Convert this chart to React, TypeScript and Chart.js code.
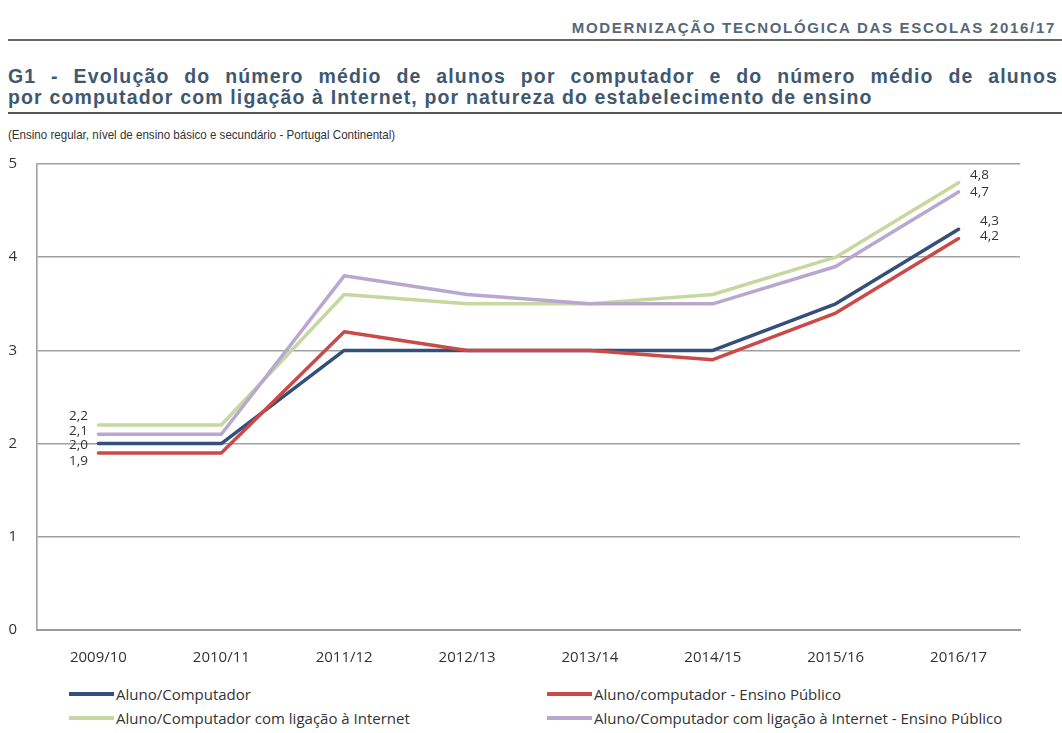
import React, { useEffect, useRef } from "react";
import { Chart, registerables } from "chart.js";

Chart.register(...registerables);

// ---------- data ----------
const categories = ["2009/10", "2010/11", "2011/12", "2012/13", "2013/14", "2014/15", "2015/16", "2016/17"];
const alunoComputador = [2.0, 2.0, 3.0, 3.0, 3.0, 3.0, 3.5, 4.3];
const alunoComputadorPublico = [1.9, 1.9, 3.2, 3.0, 3.0, 2.9, 3.4, 4.2];
const alunoInternet = [2.2, 2.2, 3.6, 3.5, 3.5, 3.6, 4.0, 4.8];
const alunoInternetPublico = [2.1, 2.1, 3.8, 3.6, 3.5, 3.5, 3.9, 4.7];
const seriesLabels = [
  "Aluno/Computador",
  "Aluno/computador - Ensino Público",
  "Aluno/Computador com ligação à Internet",
  "Aluno/Computador com ligação à Internet - Ensino Público",
];
const yTicks = [0, 1, 2, 3, 4, 5];

const headerText = "MODERNIZAÇÃO TECNOLÓGICA DAS ESCOLAS 2016/17";
const titleLine1 = "G1 - Evolução do número médio de alunos por computador e do número médio de alunos";
const titleLine2 = "por computador com ligação à Internet, por natureza do estabelecimento de ensino";
const subtitle = "(Ensino regular, nível de ensino básico e secundário - Portugal Continental)";

// ---------- styles ----------
const seriesColors = ["#34507a", "#c94a47", "#c4d89f", "#b8a8cf"];
const seriesOrder = [3, 1, 2, 0];
// pixel offsets of the value labels relative to first/last point
const startLabelOffsets = [[-20, 2], [-20, 8], [-20, -9], [-20, -3]];
const endLabelOffsets = [[31, -8], [31, -2], [21, -7], [21, 0]];

const FONT = "'Open Sans', 'DejaVu Sans', sans-serif";

const valueLabelPlugin = {
  id: "valueLabels",
  afterDatasetsDraw(chart: any) {
    const ctx = chart.ctx;
    ctx.save();
    ctx.font = `13.5px ${FONT}`;
    ctx.fillStyle = "#333";
    ctx.textAlign = "center";
    ctx.textBaseline = "middle";
    chart.data.datasets.forEach((ds: any, i: number) => {
      const meta = chart.getDatasetMeta(i);
      const n = ds.data.length;
      const first = meta.data[0];
      const last = meta.data[n - 1];
      const fmt = (v: number) => v.toFixed(1).replace(".", ",");
      ctx.fillText(fmt(ds.data[0]), first.x + startLabelOffsets[i][0], first.y + startLabelOffsets[i][1]);
      ctx.fillText(fmt(ds.data[n - 1]), last.x + endLabelOffsets[i][0], last.y + endLabelOffsets[i][1]);
    });
    ctx.restore();
  },
};

export default function App() {
  const canvasRef = useRef<HTMLCanvasElement | null>(null);

  useEffect(() => {
    if (!canvasRef.current) return;
    const values = [alunoComputador, alunoComputadorPublico, alunoInternet, alunoInternetPublico];
    const chart = new Chart(canvasRef.current, {
      type: "line",
      data: {
        labels: categories,
        datasets: values.map((d, i) => ({
          label: seriesLabels[i],
          data: d,
          borderColor: seriesColors[i],
          backgroundColor: seriesColors[i],
          borderWidth: 3.5,
          pointRadius: 0,
          tension: 0,
          borderJoinStyle: "round" as const,
          borderCapStyle: "round" as const,
          order: seriesOrder[i],
        })),
      },
      options: {
        animation: false,
        responsive: false,
        maintainAspectRatio: false,
        layout: { padding: { top: 0, right: 42, left: 0, bottom: 0 } },
        plugins: {
          legend: { display: false },
          tooltip: { enabled: false },
        },
        scales: {
          x: {
            type: "category",
            offset: true,
            grid: { display: false, drawTicks: false },
            border: { display: true, color: "#9a9a9a", width: 2 },
            ticks: { font: { family: FONT, size: 15 }, color: "#333", padding: 19, maxRotation: 0 },
            afterFit: (scale: any) => {
              scale.height = 39;
            },
          },
          y: {
            min: 0,
            max: 5,
            afterBuildTicks: (scale: any) => {
              scale.ticks = yTicks.map((v) => ({ value: v }));
            },
            grid: { color: "#a0a0a0", lineWidth: 1.6, drawTicks: false },
            border: { display: true, color: "#a0a0a0", width: 1.6 },
            ticks: { font: { family: FONT, size: 15 }, color: "#333", padding: 20 },
            afterFit: (scale: any) => {
              scale.width = 37;
            },
          },
        },
      },
      plugins: [valueLabelPlugin],
    });
    return () => chart.destroy();
  }, []);

  const legendRows = [
    [0, 1],
    [2, 3],
  ];

  return (
    <div
      style={{
        position: "absolute",
        left: 0,
        top: 0,
        width: 1062,
        height: 733,
        background: "#fff",
        overflow: "hidden",
        fontFamily: "'Liberation Sans', Arial, sans-serif",
      }}
    >
      <div
        style={{
          position: "absolute",
          right: 6,
          top: 19,
          fontSize: 15,
          lineHeight: "18px",
          fontWeight: "bold",
          letterSpacing: 1.7,
          color: "#566779",
          whiteSpace: "nowrap",
        }}
      >
        {headerText}
      </div>
      <div style={{ position: "absolute", left: 8, right: 0, top: 39, height: 2, background: "#666" }} />
      <div
        style={{
          position: "absolute",
          left: 8,
          width: 1050,
          top: 66,
          fontSize: 19.5,
          lineHeight: "21px",
          fontWeight: "bold",
          letterSpacing: 1.15,
          color: "#3f5872",
        }}
      >
        <div style={{ textAlign: "justify", textAlignLast: "justify", whiteSpace: "nowrap" as const }}>{titleLine1}</div>
        <div style={{ whiteSpace: "nowrap" }}>{titleLine2}</div>
      </div>
      <div style={{ position: "absolute", left: 8, right: 0, top: 112, height: 2, background: "#555" }} />
      <div
        style={{
          position: "absolute",
          left: 8,
          top: 127,
          fontSize: 13,
          lineHeight: "15px",
          color: "#333",
          whiteSpace: "nowrap",
          transform: "scaleX(0.89)",
          transformOrigin: "left center",
        }}
      >
        {subtitle}
      </div>
      <canvas
        ref={canvasRef}
        width={1062}
        height={534}
        style={{ position: "absolute", left: 0, top: 135, width: 1062, height: 534 }}
      />
      {legendRows.map((row, r) =>
        row.map((si, c) => (
          <div
            key={`${r}-${c}`}
            style={{
              position: "absolute",
              left: c === 0 ? 69 : 547,
              top: 683 + r * 24,
              height: 22,
              display: "flex",
              alignItems: "center",
              fontFamily: FONT,
              fontSize: 15,
              color: "#333",
              whiteSpace: "nowrap",
            }}
          >
            <span style={{ display: "inline-block", width: 45, height: 3.5, background: seriesColors[si], marginRight: 2 }} />
            <span>{seriesLabels[si]}</span>
          </div>
        ))
      )}
    </div>
  );
}
